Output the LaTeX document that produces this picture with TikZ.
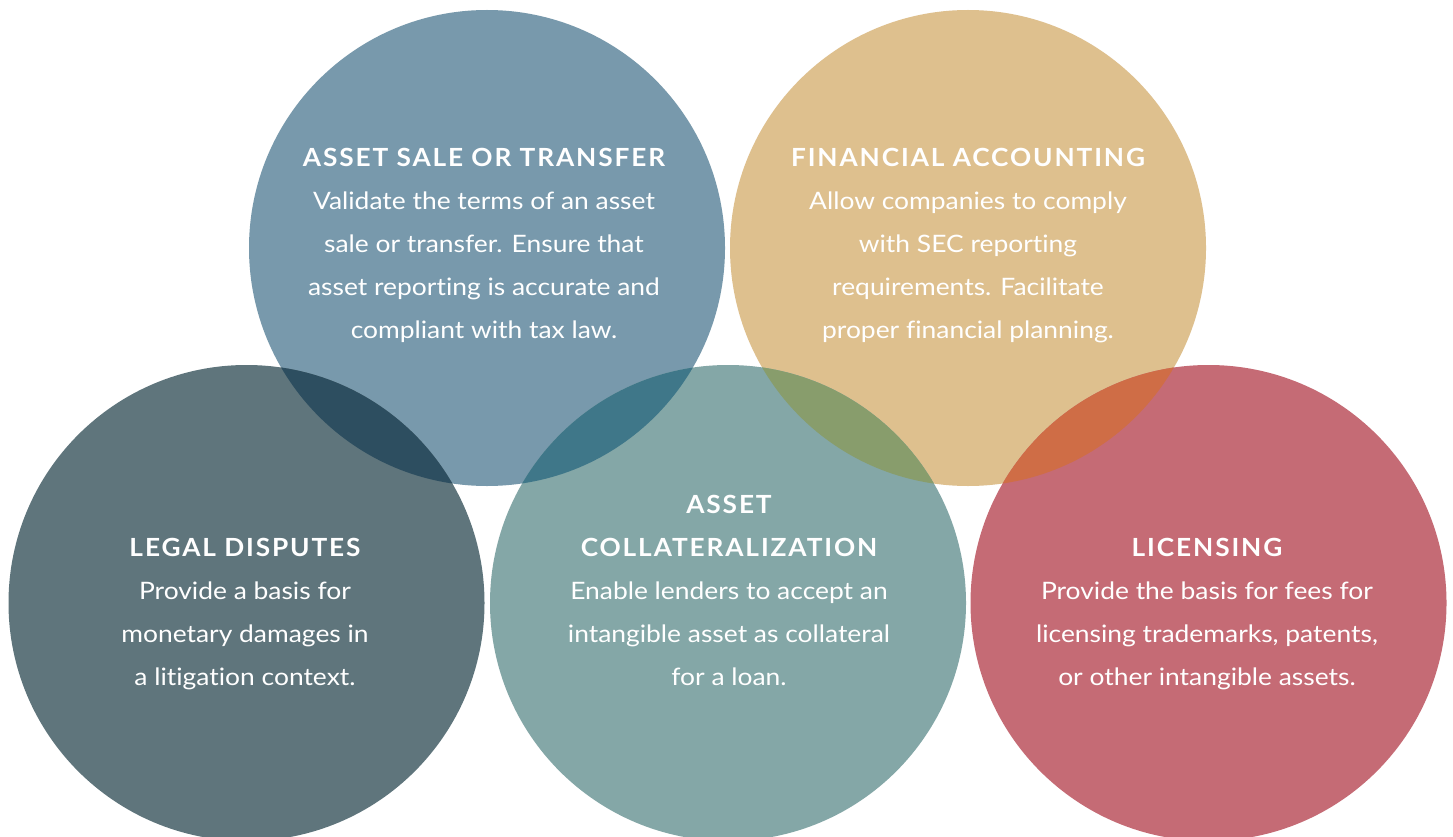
\documentclass[tikz,border=0pt]{standalone}
\usepackage{fontspec}
\setmainfont{Lato}[FakeStretch=1.1,RawFeature={-liga}]
\newfontfamily\headfont{Lato}[LetterSpace=7.5,FakeStretch=1.05]

\definecolor{saleblue}{HTML}{7899AC}
\definecolor{fingold}{HTML}{DEC08E}
\definecolor{legalslate}{HTML}{5F757C}
\definecolor{collteal}{HTML}{84A7A7}
\definecolor{licrose}{HTML}{C56B75}
\definecolor{mixsalelegal}{HTML}{2D4E60}
\definecolor{mixsalecoll}{HTML}{3F7789}
\definecolor{mixfincoll}{HTML}{889D6C}
\definecolor{mixfinlic}{HTML}{CF6D46}

% multi-line nodes are anchored at the baseline of their last line
\tikzset{
  disc/.style={circle, minimum size=476pt, inner sep=0pt, draw=none},
  blurb/.style={anchor=base, text=white, align=center, inner sep=0pt, font=\fontsize{24}{43}\selectfont},
  heading/.style={anchor=base, text=white, align=center, inner sep=0pt, font=\headfont\bfseries\fontsize{25}{43}\selectfont},
}

\begin{document}
\begin{tikzpicture}[x=1pt,y=-1pt]
  \useasboundingbox (0,0) rectangle (1453,837);
  \fill[white] (0,0) rectangle (1453,837);

  % circle centres
  \coordinate (cSale)  at (487,248);
  \coordinate (cFin)   at (968,248);
  \coordinate (cLegal) at (246.5,603);
  \coordinate (cColl)  at (728,603);
  \coordinate (cLic)   at (1208.5,603);

  % the five discs
  \node[disc, fill=saleblue]   (sale)  at (cSale)  {};
  \node[disc, fill=fingold]    (fin)   at (cFin)   {};
  \node[disc, fill=legalslate] (legal) at (cLegal) {};
  \node[disc, fill=collteal]   (coll)  at (cColl)  {};
  \node[disc, fill=licrose]    (lic)   at (cLic)   {};

  % overlapping lenses
  \begin{scope}
    \clip (cSale) circle[radius=238pt];
    \fill[mixsalelegal] (cLegal) circle[radius=238pt];
    \fill[mixsalecoll]  (cColl)  circle[radius=238pt];
  \end{scope}
  \begin{scope}
    \clip (cFin) circle[radius=238pt];
    \fill[mixfincoll] (cColl) circle[radius=238pt];
    \fill[mixfinlic]  (cLic)  circle[radius=238pt];
  \end{scope}

  % texts
  \node[heading] (saleHead) at (484,166.5) {ASSET SALE OR TRANSFER};
  \node[blurb]   (saleText) at (484,338.5) {Validate the terms of an asset\\sale or transfer. Ensure that\\asset reporting is accurate and\\compliant with tax law.};

  \node[heading] (finHead) at (968,166.5) {FINANCIAL ACCOUNTING};
  \node[blurb]   (finText) at (968,338.5) {Allow companies to comply\\with SEC reporting\\requirements. Facilitate\\proper financial planning.};

  \node[heading] (legalHead) at (245,556.5) {LEGAL DISPUTES};
  \node[blurb]   (legalText) at (245,685.5) {Provide a basis for\\monetary damages in\\a litigation context.};

  \node[heading] (collHead) at (729,556.5) {ASSET\\COLLATERALIZATION};
  \node[blurb]   (collText) at (729,685.5) {Enable lenders to accept an\\intangible asset as collateral\\for a loan.};

  \node[heading] (licHead) at (1207,556.5) {LICENSING};
  \node[blurb]   (licText) at (1207,685.5) {Provide the basis for fees for\\licensing trademarks, patents,\\or other intangible assets.};
\end{tikzpicture}
\end{document}
